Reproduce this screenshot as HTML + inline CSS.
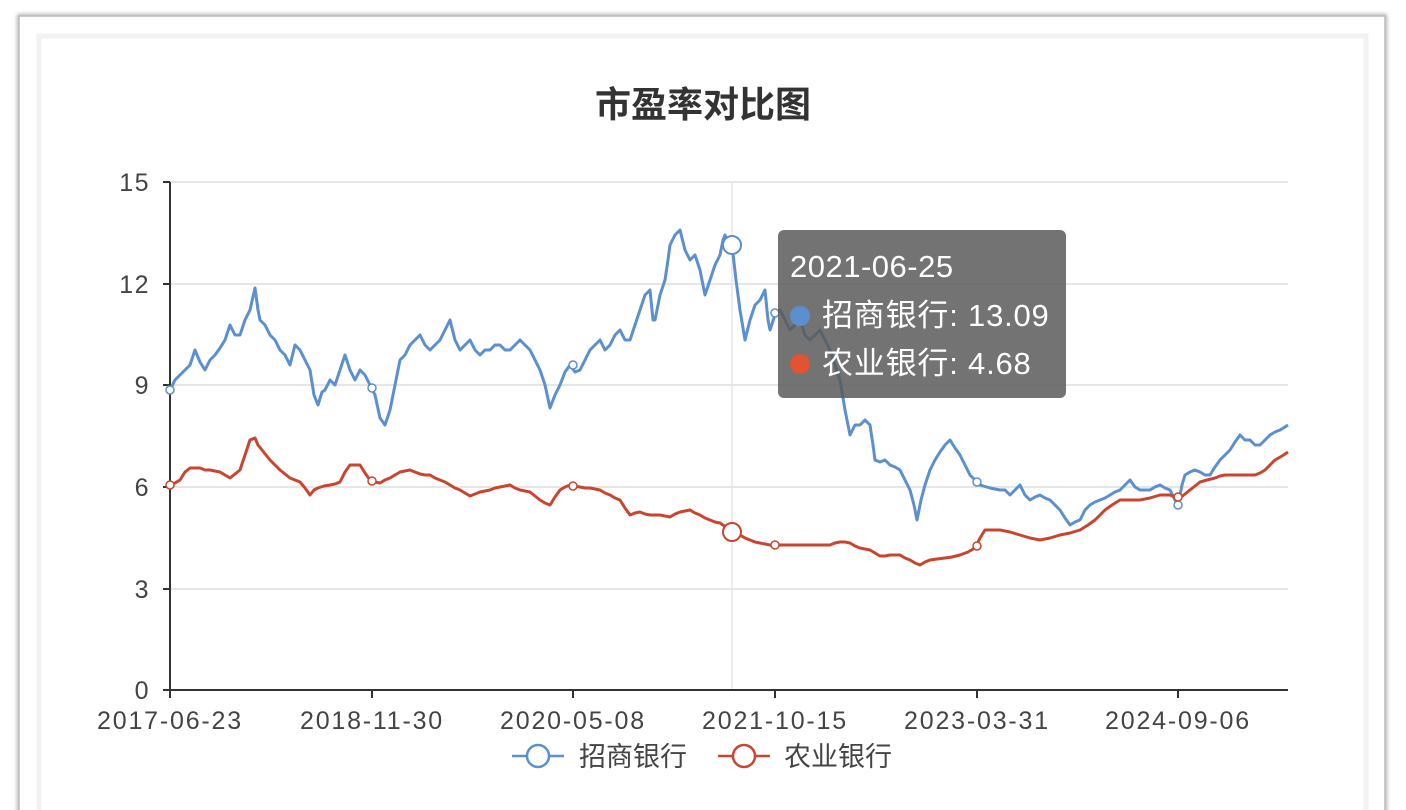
<!DOCTYPE html><html><head><meta charset="utf-8"><style>
body{margin:0;width:1406px;height:810px;background:#fff;overflow:hidden;font-family:"Liberation Sans","Noto Sans CJK SC",sans-serif}
</style></head><body>
<svg width="1406" height="810" viewBox="0 0 1406 810" style="position:absolute;left:0;top:0">
<defs><filter id="sh"><feGaussianBlur stdDeviation="2"/></filter></defs>
<rect x="19" y="16" width="1366" height="800" fill="none" stroke="#999" stroke-width="3" filter="url(#sh)"/>
<rect x="19" y="16" width="1366" height="800" fill="#fff" stroke="#bbb" stroke-width="1.5"/>
<rect x="39" y="36" width="1327" height="780" fill="#fff" stroke="#f2f2f2" stroke-width="5"/>
<text x="703" y="117" text-anchor="middle" font-size="36" font-weight="bold" fill="#333">市盈率对比图</text>
<g stroke="#ddd" stroke-width="1.5">
<line x1="170" y1="182" x2="1288" y2="182"/><line x1="170" y1="284" x2="1288" y2="284"/><line x1="170" y1="385" x2="1288" y2="385"/><line x1="170" y1="487" x2="1288" y2="487"/><line x1="170" y1="589" x2="1288" y2="589"/>
<line x1="732" y1="182" x2="732" y2="690" stroke="#e6e6e6"/>
</g>
<g stroke="#333" stroke-width="2">
<line x1="170" y1="182" x2="170" y2="690"/><line x1="170" y1="690" x2="1288" y2="690"/>
<line x1="163" y1="182" x2="170" y2="182"/><line x1="163" y1="284" x2="170" y2="284"/><line x1="163" y1="385" x2="170" y2="385"/><line x1="163" y1="487" x2="170" y2="487"/><line x1="163" y1="589" x2="170" y2="589"/><line x1="163" y1="690" x2="170" y2="690"/>
<line x1="170" y1="690" x2="170" y2="698"/><line x1="372" y1="690" x2="372" y2="698"/><line x1="573" y1="690" x2="573" y2="698"/><line x1="775" y1="690" x2="775" y2="698"/><line x1="977" y1="690" x2="977" y2="698"/><line x1="1178" y1="690" x2="1178" y2="698"/>
</g>
<g font-size="25" fill="#444" text-anchor="end" letter-spacing="1.5">
<text x="150" y="191">15</text><text x="150" y="293">12</text><text x="150" y="394">9</text><text x="150" y="496">6</text><text x="150" y="598">3</text><text x="150" y="699">0</text>
</g>
<g font-size="25" fill="#444" text-anchor="middle" letter-spacing="1.8">
<text x="170" y="729">2017-06-23</text><text x="372" y="729">2018-11-30</text><text x="573" y="729">2020-05-08</text><text x="775" y="729">2021-10-15</text><text x="977" y="729">2023-03-31</text><text x="1178" y="729">2024-09-06</text>
</g>
<polyline fill="none" stroke="#5b8fd0" stroke-width="3" stroke-linejoin="round" points="170,390 175,380 180,375 185,370 190,365 195,350 200,362 205,370 210,360 215,355 220,348 225,340 230,325 235,335 240,335 245,320 250,310 255,288 258,310 260,320 265,325 270,335 275,340 280,350 285,355 290,365 295,345 300,350 305,360 310,370 314,395 318,405 322,392 325,390 330,380 335,385 340,370 345,355 350,370 355,380 360,370 365,375 370,385 375,395 380,418 385,425 390,410 395,385 400,360 405,355 410,345 415,340 420,335 425,345 430,350 435,345 440,340 445,330 450,320 455,340 460,350 465,345 470,340 475,350 480,355 485,350 490,350 495,345 500,345 505,350 510,350 515,345 520,340 525,345 530,350 535,360 540,370 545,385 550,408 555,395 560,385 565,372 570,365 575,372 580,370 585,360 590,350 595,345 600,340 605,350 610,345 615,335 620,330 625,340 630,340 635,325 640,310 645,295 650,290 653,320 655,320 660,295 665,280 668,260 670,245 675,235 680,230 685,250 690,260 695,255 700,270 705,295 710,280 715,265 720,255 723,240 725,235 728,245 732,245 736,280 740,310 745,340 750,320 755,305 760,300 765,290 768,320 770,330 775,315 780,310 785,320 790,330 795,325 800,320 805,335 810,340 815,335 820,330 825,340 830,350 835,365 840,380 845,410 850,435 855,425 860,425 865,420 870,425 873,445 875,460 880,462 885,460 890,465 895,467 900,470 905,480 910,490 914,505 917,520 921,500 925,485 930,470 935,460 940,452 945,445 950,440 955,448 960,455 965,465 970,475 975,480 980,485 990,488 1000,490 1005,490 1010,495 1015,490 1020,485 1025,495 1030,500 1035,497 1040,495 1045,498 1050,500 1055,505 1060,510 1065,518 1070,525 1075,522 1080,520 1085,510 1090,505 1095,502 1100,500 1105,498 1110,495 1115,492 1120,490 1125,485 1130,480 1135,487 1140,490 1145,490 1150,490 1155,487 1160,485 1165,488 1170,490 1175,500 1178,505 1182,485 1185,475 1190,472 1195,470 1200,472 1205,475 1210,475 1215,467 1220,460 1225,455 1230,450 1235,442 1240,435 1245,440 1250,440 1255,445 1260,445 1265,440 1270,435 1275,432 1280,430 1285,427 1288,425"/>
<polyline fill="none" stroke="#c9452f" stroke-width="3" stroke-linejoin="round" points="170,485 175,483 180,480 185,472 190,468 195,468 200,468 205,470 210,470 215,471 220,472 225,475 230,478 235,474 240,470 245,455 250,440 255,438 258,445 262,450 266,455 270,460 275,465 280,470 285,474 290,478 295,480 300,482 305,488 310,495 314,490 318,488 324,486 330,485 335,484 340,482 345,472 350,465 355,465 360,465 365,473 370,480 375,482 380,483 385,480 390,478 395,475 400,472 405,471 410,470 415,472 420,474 425,475 430,475 435,478 440,480 445,482 450,485 455,488 460,490 465,493 470,496 475,494 480,492 485,491 490,490 495,488 500,487 505,486 510,485 515,488 520,490 525,491 530,492 535,496 540,500 545,503 550,505 555,497 560,490 565,487 570,485 575,486 580,487 585,488 590,488 595,489 600,490 605,493 610,495 615,498 620,500 625,508 630,515 635,513 640,512 645,514 650,515 655,515 660,515 665,516 670,517 675,514 680,512 685,511 690,510 695,513 700,515 705,518 710,520 715,522 720,523 726,527 732,530 736,533 740,535 745,538 750,540 755,542 760,543 765,544 770,545 780,545 790,545 800,545 810,545 820,545 830,545 835,543 840,542 845,542 850,543 855,546 860,548 865,549 870,550 875,553 880,556 885,556 890,555 895,555 900,555 905,558 910,560 915,563 920,565 925,562 930,560 937,559 945,558 952,557 960,555 968,552 975,548 980,538 985,530 992,530 1000,530 1010,532 1020,535 1030,538 1040,540 1050,538 1060,535 1070,533 1080,530 1088,525 1095,520 1100,515 1105,510 1112,505 1120,500 1130,500 1140,500 1150,498 1160,495 1165,495 1170,495 1175,497 1180,498 1185,494 1190,490 1195,486 1200,482 1207,480 1215,478 1220,476 1225,475 1232,475 1240,475 1248,475 1255,475 1260,473 1265,470 1270,465 1275,460 1282,456 1288,452"/>
<g fill="#fff" stroke-width="1.5">
<circle cx="170" cy="390" r="4" stroke="#5b8fd0"/><circle cx="372" cy="388" r="4" stroke="#5b8fd0"/><circle cx="573" cy="365" r="4" stroke="#5b8fd0"/><circle cx="775" cy="313" r="4" stroke="#5b8fd0"/><circle cx="977" cy="482" r="4" stroke="#5b8fd0"/><circle cx="1178" cy="505" r="4" stroke="#5b8fd0"/>
<circle cx="170" cy="485" r="4" stroke="#c9452f"/><circle cx="372" cy="481" r="4" stroke="#c9452f"/><circle cx="573" cy="486" r="4" stroke="#c9452f"/><circle cx="775" cy="545" r="4" stroke="#c9452f"/><circle cx="977" cy="546" r="4" stroke="#c9452f"/><circle cx="1178" cy="497" r="4" stroke="#c9452f"/>
<circle cx="732" cy="245" r="9" stroke="#5b8fd0" stroke-width="2"/><circle cx="732" cy="532" r="9" stroke="#c9452f" stroke-width="2"/>
</g>
<rect x="778" y="230" width="288" height="168" rx="6" fill="rgba(90,90,90,0.85)"/>
<text x="790" y="277" font-size="31" fill="#fff" letter-spacing="0.5">2021-06-25</text>
<circle cx="800" cy="316" r="10" fill="#5b8fd0"/>
<text x="822" y="326" font-size="31" fill="#fff" letter-spacing="0.8">招商银行: 13.09</text>
<circle cx="800" cy="364" r="10" fill="#e05433"/>
<text x="822" y="374" font-size="31" fill="#fff" letter-spacing="0.8">农业银行: 4.68</text>
<line x1="512" y1="756" x2="564" y2="756" stroke="#5b8fd0" stroke-width="2.5"/>
<circle cx="538" cy="756" r="11" fill="#fff" stroke="#5b8fd0" stroke-width="2.5"/>
<text x="579" y="766" font-size="27" fill="#444">招商银行</text>
<line x1="718" y1="756" x2="770" y2="756" stroke="#c9452f" stroke-width="2.5"/>
<circle cx="744" cy="756" r="11" fill="#fff" stroke="#c9452f" stroke-width="2.5"/>
<text x="784" y="766" font-size="27" fill="#444">农业银行</text>
</svg>
</body></html>
